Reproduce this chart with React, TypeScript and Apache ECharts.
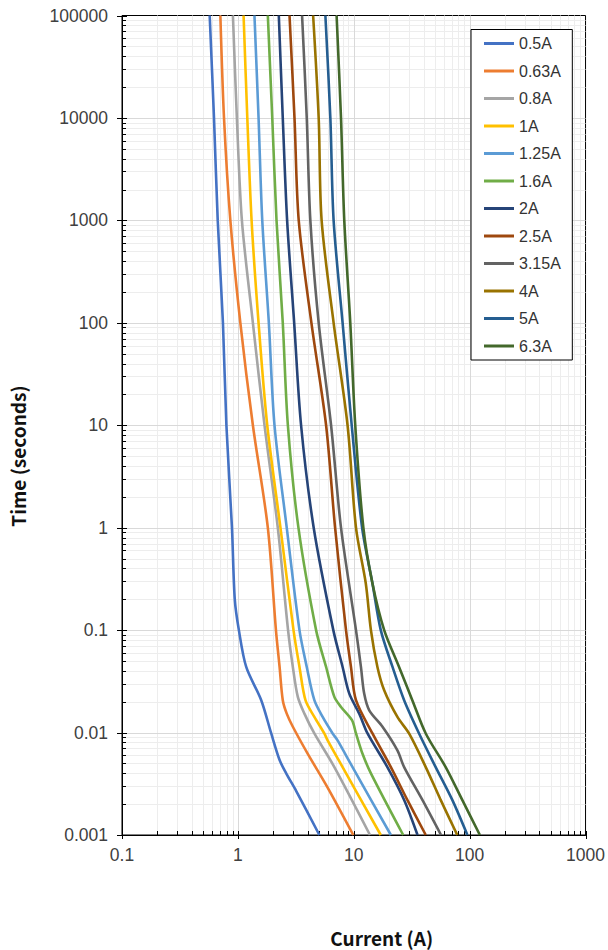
import React, { useEffect, useRef } from "react";
import * as echarts from "echarts";

const seriesNames = ["0.5A", "0.63A", "0.8A", "1A", "1.25A", "1.6A", "2A", "2.5A", "3.15A", "4A", "5A", "6.3A"];
const seriesColors = ["#4472C4", "#ED7D31", "#A5A5A5", "#FFC000", "#5B9BD5", "#70AD47", "#264478", "#9E480E", "#636363", "#997300", "#255E91", "#43682B"];

// [current (A), time (s)]
const c050 = [[0.571, 1e5], [0.622, 1e4], [0.67, 1e3], [0.743, 100], [0.796, 10], [0.889, 1], [0.94, 0.2], [1.02, 0.1], [1.18, 0.0437], [1.59, 0.0207], [1.94, 0.0098], [2.29, 0.0054], [2.61, 0.004], [3.18, 0.0027], [5.05, 0.001]];
const c063 = [[0.706, 1e5], [0.759, 1e4], [0.861, 1e3], [1.05, 100], [1.347, 10], [1.813, 1], [2.13, 0.1], [2.29, 0.0437], [2.44, 0.0207], [2.64, 0.0153], [2.98, 0.0114], [4.01, 0.0062], [5.95, 0.0029], [9.9, 0.001]];
const c080 = [[0.906, 1e5], [0.98, 1e4], [1.083, 1e3], [1.347, 100], [1.698, 10], [2.21, 1], [2.71, 0.1], [2.98, 0.0437], [3.29, 0.0223], [3.75, 0.0153], [4.57, 0.0098], [6.8, 0.0046], [13.8, 0.001]];
const c100 = [[1.12, 1e5], [1.206, 1e4], [1.313, 1e3], [1.508, 100], [1.792, 10], [2.33, 1], [3.02, 0.1], [3.4, 0.0437], [3.83, 0.0207], [4.57, 0.0142], [5.57, 0.0098], [5.95, 0.0084], [8.01, 0.0046], [17.1, 0.001]];
const c125 = [[1.39, 1e5], [1.508, 1e4], [1.623, 1e3], [1.85, 100], [2.07, 10], [2.64, 1], [3.4, 0.1], [3.93, 0.0437], [4.57, 0.0207], [5.39, 0.0142], [6.57, 0.0098], [7.25, 0.0084], [9.76, 0.0046], [20.9, 0.001]];
const c160 = [[1.813, 1e5], [1.98, 1e4], [2.155, 1e3], [2.44, 100], [2.7, 10], [3.33, 1], [4.73, 0.1], [5.77, 0.0437], [6.8, 0.0223], [7.76, 0.0178], [9.65, 0.0132], [10.45, 0.0098], [11.9, 0.0062], [14.06, 0.004], [26.7, 0.001]];
const c200 = [[2.255, 1e5], [2.44, 1e4], [2.66, 1e3], [3.06, 100], [3.51, 10], [4.51, 1], [6.66, 0.1], [8.01, 0.0437], [9.15, 0.024], [11.15, 0.0153], [13.15, 0.0098], [19.5, 0.0046], [27.2, 0.0022], [35.5, 0.001]];
const c250 = [[2.79, 1e5], [3.08, 1e4], [3.35, 1e3], [4.31, 100], [5.77, 10], [6.9, 1], [8.57, 0.1], [9.46, 0.0437], [10.45, 0.0207], [14.5, 0.0098], [20.9, 0.0046], [29.0, 0.0022], [41.8, 0.001]];
const c315 = [[3.58, 1e5], [3.93, 1e4], [4.22, 1e3], [4.98, 100], [6.37, 10], [7.76, 1], [10.45, 0.1], [11.53, 0.0437], [12.3, 0.024], [13.6, 0.0165], [17.7, 0.0114], [23.8, 0.0067], [27.2, 0.0046], [39.1, 0.0022], [56.6, 0.001]];
const c400 = [[4.46, 1e5], [4.98, 1e4], [5.28, 1e3], [6.7, 100], [8.84, 10], [10.45, 1], [12.7, 0.285], [14.06, 0.1], [16.0, 0.0437], [18.3, 0.0259], [23.8, 0.0142], [30.0, 0.0098], [41.8, 0.0046], [56.2, 0.0022], [78.2, 0.001]];
const c500 = [[5.69, 1e5], [6.28, 1e4], [6.7, 1e3], [8.01, 100], [9.6, 10], [11.8, 1], [14.5, 0.285], [17.1, 0.1], [21.6, 0.0437], [27.2, 0.0207], [36.6, 0.0098], [50.9, 0.0046], [70.8, 0.0022], [95.6, 0.001]];
const c630 = [[7.11, 1e5], [7.76, 1e4], [8.28, 1e3], [9.33, 100], [10.3, 10], [12.1, 1], [14.5, 0.285], [18.3, 0.1], [24.6, 0.0437], [32.0, 0.0207], [41.8, 0.0098], [62.1, 0.0046], [86.3, 0.0022], [122.5, 0.001]];
const curves = [c050, c063, c080, c100, c125, c160, c200, c250, c315, c400, c500, c630];

const xDecades = [0.1, 1, 10, 100, 1000];
const yDecades = [0.001, 0.01, 0.1, 1, 10, 100, 1000, 10000, 100000];
const minorMultipliers = [2, 3, 4, 5, 6, 7, 8, 9];

const tickFont = '"Liberation Sans", Arial, sans-serif';
const titleFont = '"Noto Sans CJK SC", "Noto Sans", sans-serif';

function minorValues(decades: number[]) {
  const out: number[] = [];
  for (let i = 0; i < decades.length - 1; i++) {
    for (const m of minorMultipliers) out.push(decades[i] * m);
  }
  return out;
}

function fmt(v: number) {
  return String(Number(v.toPrecision(6)));
}

export default function App() {
  const ref = useRef<HTMLDivElement>(null);
  useEffect(() => {
    if (!ref.current) return;
    const chart = echarts.init(ref.current, null, { renderer: "svg" });
    const xMinor = minorValues(xDecades);
    const yMinor = minorValues(yDecades);
    const xInnerMajor = xDecades.slice(1, -1);
    const yInnerMajor = yDecades.slice(1, -1);

    const gridSeries: any = {
      type: "custom",
      name: "__grid",
      z: 1,
      clip: false,
      silent: true,
      data: [[1, 1]],
      renderItem: (params: any, api: any) => {
        const cs = params.coordSys;
        const left = cs.x;
        const top = cs.y;
        const right = cs.x + cs.width;
        const bottom = cs.y + cs.height;
        const ch: any[] = [];
        const ln = (x1: number, y1: number, x2: number, y2: number, stroke: string) =>
          ch.push({ type: "line", shape: { x1, y1, x2, y2 }, style: { stroke, lineWidth: 1 }, silent: true });
        const px = (v: number) => Math.round(api.coord([v, 1])[0]) + 0.5;
        const py = (v: number) => Math.round(api.coord([1, v])[1]) + 0.5;
        for (const v of xMinor) ln(px(v), top, px(v), bottom, "#EDEDED");
        for (const v of yMinor) ln(left, py(v), right, py(v), "#EDEDED");
        for (const v of xInnerMajor) ln(px(v), top, px(v), bottom, "#D9D9D9");
        for (const v of yInnerMajor) ln(left, py(v), right, py(v), "#D9D9D9");
        // ticks
        for (const v of xMinor) ln(px(v), bottom, px(v), bottom - 4, "#000");
        for (const v of yMinor) ln(left, py(v), left + 4, py(v), "#000");
        for (const v of xDecades) ln(px(v), bottom + 4, px(v), bottom - 4, "#000");
        for (const v of yDecades) ln(left - 5, py(v), left + 5, py(v), "#000");
        return { type: "group", children: ch };
      },
    };

    const lineSeries = curves.map((c, i) => ({
      type: "line",
      name: seriesNames[i],
      data: c,
      color: seriesColors[i],
      smooth: 0.3,
      symbol: "none",
      showSymbol: false,
      z: 3,
      lineStyle: { width: 2.6, color: seriesColors[i] },
    }));

    const option: any = {
      animation: false,
      grid: {
        left: 122,
        right: 20.5,
        top: 15.5,
        bottom: 115,
        show: true,
        borderColor: "#000",
        borderWidth: 1,
        backgroundColor: "transparent",
      },
      xAxis: {
        type: "log",
        logBase: 10,
        min: 0.1,
        max: 1000,
        axisLine: { show: true, onZero: false, lineStyle: { color: "#000", width: 1 } },
        axisTick: { show: false },
        splitLine: { show: false },
        minorTick: { show: false },
        axisLabel: {
          formatter: fmt,
          margin: 11,
          fontSize: 17.5,
          fontFamily: tickFont,
          color: "#404040",
          showMinLabel: true,
          showMaxLabel: true,
        },
      },
      yAxis: {
        type: "log",
        logBase: 10,
        min: 0.001,
        max: 100000,
        axisLine: { show: true, onZero: false, lineStyle: { color: "#000", width: 1 } },
        axisTick: { show: false },
        splitLine: { show: false },
        minorTick: { show: false },
        axisLabel: {
          formatter: fmt,
          margin: 14,
          fontSize: 17.5,
          fontFamily: tickFont,
          color: "#404040",
          showMinLabel: true,
          showMaxLabel: true,
        },
      },
      legend: {
        data: seriesNames,
        orient: "vertical",
        left: 471,
        top: 29.5,
        padding: [4, 11.5, 4, 13],
        itemGap: 7.5,
        itemWidth: 30,
        itemHeight: 3,
        icon: "rect",
        backgroundColor: "#fff",
        borderColor: "#000",
        borderWidth: 1,
        borderRadius: 0,
        selectedMode: false,
        textStyle: { fontSize: 16, lineHeight: 20, fontFamily: tickFont, color: "#333" },
      },
      graphic: [
        {
          type: "text",
          x: 381.7,
          y: 937,
          style: {
            text: "Current (A)",
            font: `bold 19px ${titleFont}`,
            fill: "#111",
            align: "center",
            verticalAlign: "middle",
          },
        },
        {
          type: "text",
          x: 17,
          y: 456,
          rotation: Math.PI / 2,
          style: {
            text: "Time (seconds)",
            font: `bold 19px ${titleFont}`,
            fill: "#111",
            align: "center",
            verticalAlign: "middle",
          },
        },
      ],
      series: [gridSeries, ...lineSeries],
    };
    chart.setOption(option);
    return () => chart.dispose();
  }, []);
  return <div ref={ref} style={{ position: "absolute", left: 0, top: 0, width: 608, height: 950 }} />;
}
